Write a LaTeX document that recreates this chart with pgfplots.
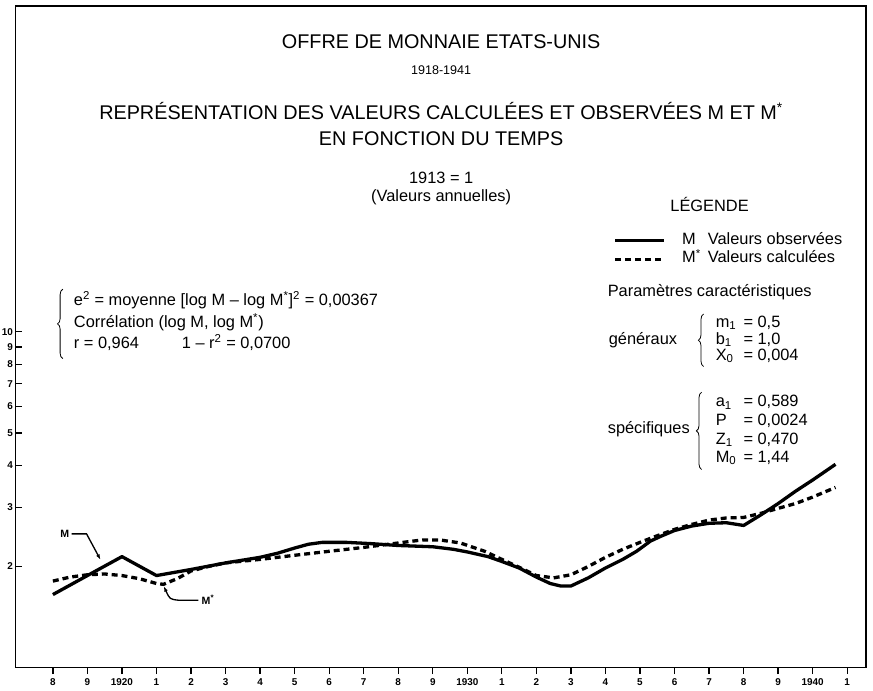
\documentclass[border=0pt]{standalone}
\usepackage{pgfplots}
\pgfplotsset{compat=1.18}
\usepackage{fontspec}
\setmainfont{Liberation Sans}
\usetikzlibrary{decorations.pathreplacing,arrows.meta}

\newcommand{\bodyf}{\fontsize{12.4}{14}\selectfont}
\newcommand{\titf}{\fontsize{15}{18}\selectfont}

\begin{document}
\begin{tikzpicture}
\begin{axis}[
  at={(0,0)}, anchor=south west,
  scale only axis, width=644.25pt, height=501pt,
  xmin=1916.91, xmax=1941.545,
  ymode=log, ymin=1, ymax=93.4,
  axis line style={line width=1pt},
  xtick={1918,...,1941},
  xticklabels={8,9,1920,1,2,3,4,5,6,7,8,9,1930,1,2,3,4,5,6,7,8,9,1940,1},
  ytick={2,3,4,5,6,7,8,9,10},
  yticklabels={2,3,4,5,6,7,8,9,10},
  yminorticks=false,
  xtick pos=bottom, ytick pos=left,
  xtick align=outside, ytick align=inside,
  major tick length=5pt,
  tick style={line width=1pt, black},
  tick label style={font=\bfseries\fontsize{7.5}{9}\selectfont},
  yticklabel style={inner sep=1.5pt},
  /pgf/number format/assume math mode=true,
  clip=false,
]
% M : valeurs observees
\addplot[line width=2.5pt, black, line join=round] coordinates {
(1918,1.65) (1919,1.88) (1920,2.14) (1921,1.88) (1922,1.96) (1923,2.05)
(1924,2.13) (1924.5,2.19) (1925,2.27) (1925.4,2.33) (1925.8,2.36) (1926.5,2.36)
(1927.2,2.34) (1928,2.31) (1929,2.29) (1929.6,2.25) (1930,2.21) (1930.6,2.14)
(1931,2.07) (1931.5,1.98) (1932,1.86) (1932.4,1.78) (1932.7,1.75) (1933,1.75)
(1933.5,1.85) (1934,1.98) (1934.5,2.10) (1934.9,2.22) (1935.3,2.38) (1935.6,2.46)
(1936,2.56) (1936.5,2.64) (1937,2.69) (1937.5,2.70) (1938,2.65) (1938.5,2.85)
(1939,3.08) (1939.5,3.35) (1940,3.62) (1940.66,4.03)
};
% M* : valeurs calculees
\addplot[line width=2.5pt, black, dash pattern=on 4.5pt off 3pt] coordinates {
(1918,1.81) (1918.5,1.86) (1919,1.89) (1919.5,1.90) (1920,1.88) (1920.5,1.84)
(1921,1.78) (1921.2,1.77) (1921.6,1.84) (1922,1.94) (1922.5,2.00) (1923,2.05)
(1924,2.10) (1925,2.16) (1926,2.22) (1927,2.28) (1928,2.35) (1928.7,2.40)
(1929.2,2.40) (1929.8,2.35) (1930.5,2.22) (1931,2.10) (1931.5,1.99) (1932,1.88)
(1932.5,1.85) (1933,1.89) (1933.5,2.00) (1934,2.13) (1934.5,2.25) (1935,2.36)
(1935.5,2.47) (1936,2.58) (1936.5,2.67) (1937,2.75) (1937.5,2.79) (1938,2.80)
(1938.5,2.88) (1939,2.98) (1939.5,3.08) (1940,3.22) (1940.66,3.44)
};
\end{axis}

\begin{scope}[x=0.75pt, y=-0.75pt, shift={(-5.25pt,505.5pt)}, every node/.style={inner sep=0pt}]
\path (-8,0) rectangle (873,694);
% titles
\node[anchor=mid] at (437,45) {\titf OFFRE DE MONNAIE ETATS-UNIS};
\node[anchor=mid] at (437,72) {\fontsize{9.5}{11}\selectfont 1918-1941};
\node[anchor=mid] at (437,117) {\titf REPRÉSENTATION DES VALEURS CALCULÉES ET OBSERVÉES M ET M\textsuperscript{*}};
\node[anchor=mid] at (437,143) {\titf EN FONCTION DU TEMPS};
\node[anchor=mid] at (437,182) {\bodyf 1913 = 1};
\node[anchor=mid] at (437,200) {\bodyf (Valeurs annuelles)};

% legende
\node[anchor=mid] at (708,210) {\bodyf LÉGENDE};
\draw[line width=2.5pt] (613,243) -- (662,243);
\draw[line width=2.5pt, dash pattern=on 4.5pt off 3pt] (613,262) -- (662,262);
\node[anchor=mid west] at (680,243) {\bodyf M};
\node[anchor=mid west] at (680,262) {\bodyf M\textsuperscript{*}};
\node[anchor=mid west] at (706,243) {\bodyf Valeurs observées};
\node[anchor=mid west] at (706,262) {\bodyf Valeurs calculées};

\node[anchor=mid west] at (605,296) {\bodyf Paramètres caractéristiques};

% generaux
\node[anchor=mid west] at (606,344) {\bodyf généraux};
\draw[line width=0.6pt, decorate, decoration={brace, amplitude=4pt}] (702,370) -- (702,317);
\node[anchor=mid west] at (714,327) {\bodyf m\textsubscript{1}};
\node[anchor=mid west] at (714,344) {\bodyf b\textsubscript{1}};
\node[anchor=mid west] at (714,360) {\bodyf X\textsubscript{0}};
\node[anchor=mid west] at (742,327) {\bodyf = 0,5};
\node[anchor=mid west] at (742,344) {\bodyf = 1,0};
\node[anchor=mid west] at (742,360) {\bodyf = 0,004};

% specifiques
\node[anchor=mid west] at (605,434) {\bodyf spécifiques};
\draw[line width=0.6pt, decorate, decoration={brace, amplitude=4pt}] (700,474) -- (700,396);
\node[anchor=mid west] at (714,407) {\bodyf a\textsubscript{1}};
\node[anchor=mid west] at (714,426) {\bodyf P};
\node[anchor=mid west] at (714,445) {\bodyf Z\textsubscript{1}};
\node[anchor=mid west] at (714,463) {\bodyf M\textsubscript{0}};
\node[anchor=mid west] at (742,407) {\bodyf = 0,589};
\node[anchor=mid west] at (742,426) {\bodyf = 0,0024};
\node[anchor=mid west] at (742,445) {\bodyf = 0,470};
\node[anchor=mid west] at (742,463) {\bodyf = 1,44};

% bloc gauche
\draw[line width=0.6pt, decorate, decoration={brace, amplitude=4pt}] (55,362) -- (55,292);
\node[anchor=mid west] at (66,305) {\bodyf e\textsuperscript{2} = moyenne [log M – log M\textsuperscript{*}]\textsuperscript{2} = 0,00367};
\node[anchor=mid west] at (66,327) {\bodyf Corrélation (log M, log M\textsuperscript{*})};
\node[anchor=mid west] at (66,348) {\bodyf r = 0,964};
\node[anchor=mid west] at (175,348) {\bodyf 1 – r\textsuperscript{2} = 0,0700};

% annotations M et M*
\node[anchor=mid] at (57,539) {\bfseries\fontsize{8}{9}\selectfont M};
\draw[line width=1pt, -{Latex[length=4pt,width=3pt]}] (64,539) -- (79,539) -- (93,565);
\node[anchor=mid west] at (195,607) {\bfseries\fontsize{8}{9}\selectfont M\textsuperscript{*}};
\draw[line width=1pt, -{Latex[length=4pt,width=3pt]}] (192,606) -- (172,606) .. controls (163,605) .. (157,592);
\end{scope}
\end{tikzpicture}
\end{document}
